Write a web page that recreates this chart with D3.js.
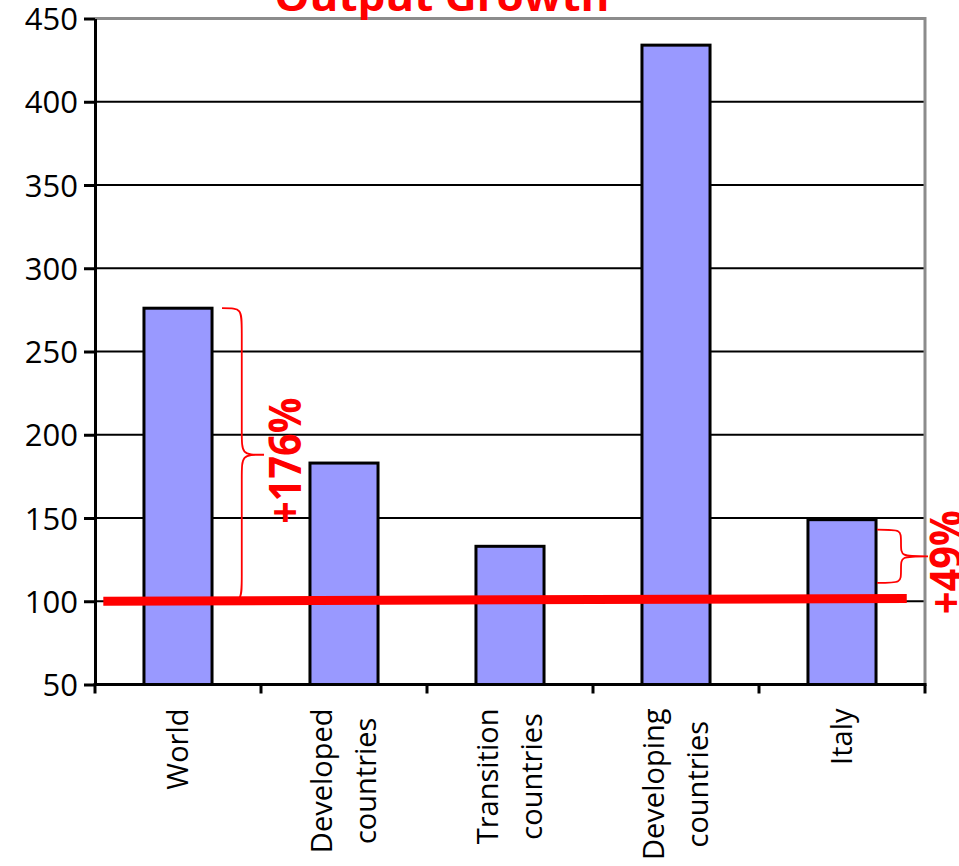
<!DOCTYPE html>
<html>
<head>
<meta charset="utf-8">
<script src="https://cdn.jsdelivr.net/npm/d3@7"></script>
<style>
  body { margin: 0; background: #fff; }
  svg { display: block; }
</style>
</head>
<body>
<script>
//Chart data
var categories = ["World", "Developed countries", "Transition countries", "Developing countries", "Italy"];
var labelLines = [["World"], ["Developed", "countries"], ["Transition", "countries"], ["Developing", "countries"], ["Italy"]];
var values = [276, 183, 133, 434, 149];
var yTicks = [50, 100, 150, 200, 250, 300, 350, 400, 450];

//Annotations: base line (value 100) and the two braces
var baseLine = [{ pos: -0.45, value: 100 }, { pos: 4.39, value: 101.7 }];
var braceCats = ["World", "Italy"];
var braceTop = [276, 143];
var braceBottom = [100, 111];
var braceTexts = ["+176%", "+49%"];

//Width and height
var w = 959;
var h = 866;
var margin = { top: 18.5, right: 34, bottom: 181.5, left: 95 };

var svg = d3.select("body")
            .append("svg")
            .attr("width", w)
            .attr("height", h);

//Scales
var x = d3.scaleBand()
            .domain(categories)
            .range([margin.left, w - margin.right])
            .paddingInner(0.59)
            .paddingOuter(0.295);

var y = d3.scaleLinear()
            .domain([50, 450])
            .range([h - margin.bottom, margin.top]);

//Continuous position along the categories (index units)
var xPos = d3.scaleLinear()
            .domain([-0.5, categories.length - 0.5])
            .range([margin.left, w - margin.right]);

var x0 = margin.left, x1 = w - margin.right;

//Gridlines
svg.append("g")
    .selectAll("line")
    .data(yTicks.filter(function(d) { return d > 50 && d < 450; }))
    .enter()
    .append("line")
    .attr("x1", x0)
    .attr("x2", x1)
    .attr("y1", function(d) { return y(d); })
    .attr("y2", function(d) { return y(d); })
    .style("stroke", "#000")
    .style("stroke-width", 2);

//Plot border (top and right)
svg.append("path")
    .attr("d", "M" + x0 + "," + y(450) + "H" + x1 + "V" + y(50))
    .style("fill", "none")
    .style("stroke", "#8c8c8c")
    .style("stroke-width", 3);

//Bars
svg.append("g")
    .selectAll("rect")
    .data(values)
    .enter()
    .append("rect")
    .attr("x", function(d, i) { return x(categories[i]); })
    .attr("y", function(d) { return y(d); })
    .attr("width", x.bandwidth())
    .attr("height", function(d) { return y(50) - y(d); })
    .style("fill", "#9999ff")
    .style("stroke", "#000")
    .style("stroke-width", 3);

//Y axis
var yAxis = svg.append("g")
    .attr("transform", "translate(" + x0 + ",0)")
    .call(d3.axisLeft(y).tickValues(yTicks).tickSize(11).tickPadding(6).tickSizeOuter(0));

yAxis.select(".domain").style("stroke-width", 3);
yAxis.selectAll(".tick line").style("stroke-width", 3);
yAxis.selectAll("text")
    .style("font-family", "'Open Sans', sans-serif")
    .style("font-size", "31px")
    .attr("dy", "0.36em")
    .style("fill", "#000");

//X axis line and ticks at the category boundaries
var xAxis = svg.append("g");
xAxis.append("line")
    .attr("x1", x0 - 1.5)
    .attr("x2", x1 + 1.5)
    .attr("y1", y(50))
    .attr("y2", y(50))
    .style("stroke", "#000")
    .style("stroke-width", 3);

xAxis.selectAll(".xtick")
    .data(d3.range(categories.length + 1))
    .enter()
    .append("line")
    .attr("class", "xtick")
    .attr("x1", function(d) { return xPos(d - 0.5); })
    .attr("x2", function(d) { return xPos(d - 0.5); })
    .attr("y1", y(50))
    .attr("y2", y(50) + 9)
    .style("stroke", "#000")
    .style("stroke-width", 3);

//Category labels (rotated, block aligned to the top)
var labelTop = y(50) + 24;
var labels = svg.append("g")
    .selectAll("g")
    .data(labelLines)
    .enter()
    .append("g")
    .attr("transform", function(d, i) {
        return "translate(" + (x(categories[i]) + x.bandwidth() / 2) + "," + labelTop + ") rotate(-90)";
    });

labels.each(function(lines) {
    var g = d3.select(this);
    var texts = g.selectAll("text")
        .data(lines)
        .enter()
        .append("text")
        .attr("y", function(d, j) { return (j - (lines.length - 1) / 2) * 44; })
        .attr("dy", "0.36em")
        .attr("text-anchor", "middle")
        .style("font-family", "'Open Sans', sans-serif")
        .style("font-size", "29px")
        .style("fill", "#000")
        .text(function(d) { return d; });
    var maxLen = d3.max(texts.nodes(), function(n) { return n.getComputedTextLength(); });
    texts.attr("x", -maxLen / 2);
});

//Base line at 100
svg.append("line")
    .attr("x1", xPos(baseLine[0].pos))
    .attr("y1", y(baseLine[0].value))
    .attr("x2", xPos(baseLine[1].pos))
    .attr("y2", y(baseLine[1].value))
    .style("stroke", "#ff0000")
    .style("stroke-width", 9);

//Curly brace path: opens to the left at xa, tip to the right at xa + bw
function bracePath(xa, ya, yb, bw) {
    var xs = xa + bw * 0.47;
    var xt = xa + bw;
    var ym = (ya + yb) / 2;
    var r = Math.min(25, (yb - ya) / 4);
    return "M" + xa + "," + ya +
        "C" + xs + "," + ya + " " + xs + "," + ya + " " + xs + "," + (ya + r) +
        "V" + (ym - r) +
        "C" + xs + "," + ym + " " + xs + "," + ym + " " + xt + "," + ym +
        "C" + xs + "," + ym + " " + xs + "," + ym + " " + xs + "," + (ym + r) +
        "V" + (yb - r) +
        "C" + xs + "," + yb + " " + xs + "," + yb + " " + xa + "," + yb;
}

var braceOffsets = [10, 1];
var braceWidths = [42, 51];
var braceTextShift = [21, 18];
var braceTextLen = [126, 104];

braceCats.forEach(function(c, i) {
    var xa = x(c) + x.bandwidth() + braceOffsets[i];
    var ya = y(braceTop[i]);
    var yb = y(braceBottom[i]);
    svg.append("path")
        .attr("d", bracePath(xa, ya, yb, braceWidths[i]))
        .style("fill", "none")
        .style("stroke", "#ff0000")
        .style("stroke-width", 1.8);

    svg.append("text")
        .attr("transform", "translate(" + (xa + braceWidths[i] + braceTextShift[i]) + "," + ((ya + yb) / 2 + 6) + ") rotate(-90)")
        .attr("text-anchor", "middle")
        .attr("dy", "0.36em")
        .attr("textLength", braceTextLen[i])
        .attr("lengthAdjust", "spacingAndGlyphs")
        .style("font-family", "'Open Sans', sans-serif")
        .style("font-weight", "bold")
        .style("font-size", "45px")
        .style("fill", "#ff0000")
        .text(braceTexts[i]);
});

//Title (partly cut at the top)
svg.append("text")
    .attr("x", 442)
    .attr("y", 11)
    .attr("text-anchor", "middle")
    .attr("textLength", 335)
    .attr("lengthAdjust", "spacingAndGlyphs")
    .style("font-family", "'Open Sans', sans-serif")
    .style("font-weight", "bold")
    .style("font-size", "40px")
    .style("fill", "#ff0000")
    .text("Output Growth");
</script>
</body>
</html>
